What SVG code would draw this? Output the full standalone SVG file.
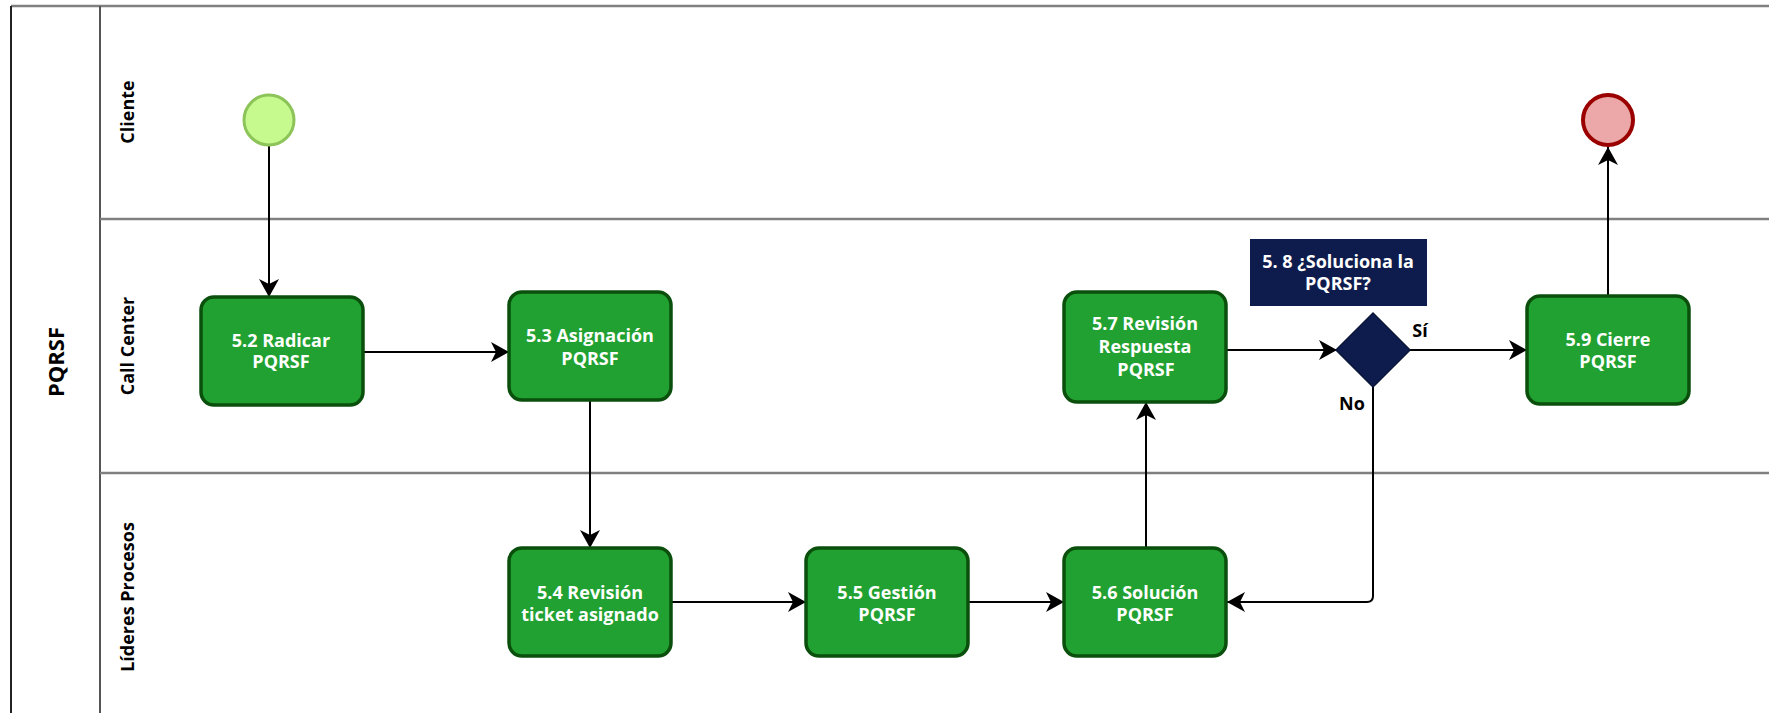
<svg xmlns="http://www.w3.org/2000/svg" width="1769" height="713" viewBox="0 0 1769 713">
<defs>
<style>
.task{fill:#21a131;stroke:#0a4f0c;stroke-width:3.5}
.tt{font-family:"Open Sans","Noto Sans","Liberation Sans",sans-serif;font-weight:700;font-size:18px;fill:#ffffff;text-anchor:middle;dominant-baseline:central}
.lane{font-family:"Open Sans","Noto Sans","Liberation Sans",sans-serif;font-weight:700;font-size:18px;fill:#000;text-anchor:middle;dominant-baseline:central}
.lbl{font-family:"Open Sans","Noto Sans","Liberation Sans",sans-serif;font-weight:700;font-size:18px;fill:#000;text-anchor:middle;dominant-baseline:central}
.edge{fill:none;stroke:#000;stroke-width:2}
.sep{stroke:#808080;stroke-width:2.5;fill:none}
</style>
<marker id="arr" markerUnits="userSpaceOnUse" markerWidth="22" markerHeight="24" refX="18" refY="11" orient="auto">
<path d="M0,1 L18,11 L0,21 L5,11 Z" fill="#000"/>
</marker>
</defs>
<rect width="1769" height="713" fill="#ffffff"/>
<g id="pool">
<line x1="11" y1="6" x2="1769" y2="6" class="sep"/>
<line x1="11" y1="6" x2="11" y2="713" stroke="#222" stroke-width="2"/>
<line x1="100" y1="6" x2="100" y2="713" stroke="#555" stroke-width="2"/>
<line x1="100" y1="219" x2="1769" y2="219" class="sep"/>
<line x1="100" y1="473" x2="1769" y2="473" class="sep"/>
<text class="lane" style="font-size:22px" transform="translate(55,362) rotate(-90)">PQRSF</text>
<text class="lane" transform="translate(127,112) rotate(-90)">Cliente</text>
<text class="lane" transform="translate(127,346) rotate(-90)">Call Center</text>
<text class="lane" transform="translate(127,597) rotate(-90)">Líderes Procesos</text>
</g>
<g id="connectors">
<line class="edge" x1="269" y1="146" x2="269" y2="297" marker-end="url(#arr)" stroke-width="3"/>
<line class="edge" x1="363" y1="352" x2="509" y2="352" marker-end="url(#arr)"/>
<line class="edge" x1="590" y1="400" x2="590" y2="548" marker-end="url(#arr)" stroke="#333"/>
<line class="edge" x1="671" y1="602" x2="806" y2="602" marker-end="url(#arr)"/>
<line class="edge" x1="968" y1="602" x2="1064" y2="602" marker-end="url(#arr)"/>
<line class="edge" x1="1146" y1="548" x2="1146" y2="402" marker-end="url(#arr)"/>
<line class="edge" x1="1226" y1="350" x2="1337" y2="350" marker-end="url(#arr)"/>
<line class="edge" x1="1410" y1="350" x2="1527" y2="350" marker-end="url(#arr)"/>
<path class="edge" d="M1373,387 L1373,596 Q1373,602 1367,602 L1227,602" marker-end="url(#arr)"/>
<line class="edge" x1="1608" y1="296" x2="1608" y2="147" marker-end="url(#arr)" stroke="#333"/>
<text class="lbl" x="1420" y="330">Sí</text>
<text class="lbl" x="1352" y="403">No</text>
</g>
<g id="start">
<circle cx="269" cy="120" r="25" fill="#c6f98e" stroke="#8cc45a" stroke-width="3"/>
</g>
<g id="end">
<circle cx="1608" cy="120" r="25" fill="#eca8a9" stroke="#9a0000" stroke-width="4"/>
</g>
<g id="t52">
<rect class="task" x="201" y="297" width="162" height="108" rx="13"/>
<text class="tt" x="281" y="340">5.2 Radicar</text>
<text class="tt" x="281" y="361">PQRSF</text>
</g>
<g id="t53">
<rect class="task" x="509" y="292" width="162" height="108" rx="13"/>
<text class="tt" x="590" y="335">5.3 Asignación</text>
<text class="tt" x="590" y="358">PQRSF</text>
</g>
<g id="t54">
<rect class="task" x="509" y="548" width="162" height="108" rx="13"/>
<text class="tt" x="590" y="592">5.4 Revisión</text>
<text class="tt" x="590" y="614">ticket asignado</text>
</g>
<g id="t55">
<rect class="task" x="806" y="548" width="162" height="108" rx="13"/>
<text class="tt" x="887" y="592">5.5 Gestión</text>
<text class="tt" x="887" y="614">PQRSF</text>
</g>
<g id="t56">
<rect class="task" x="1064" y="548" width="162" height="108" rx="13"/>
<text class="tt" x="1145" y="592">5.6 Solución</text>
<text class="tt" x="1145" y="614">PQRSF</text>
</g>
<g id="t57">
<rect class="task" x="1064" y="292" width="162" height="110" rx="13"/>
<text class="tt" x="1145" y="323">5.7 Revisión</text>
<text class="tt" x="1145" y="346">Respuesta</text>
<text class="tt" x="1146" y="369">PQRSF</text>
</g>
<g id="gw58">
<rect x="1250" y="239" width="177" height="67" fill="#0d1c4c"/>
<text class="tt" x="1338" y="261">5. 8 ¿Soluciona la</text>
<text class="tt" x="1338" y="283">PQRSF?</text>
<path d="M1373,313 L1410,350 L1373,387 L1336,350 Z" fill="#0d1c4c" stroke="#0a1538" stroke-width="1.5"/>
</g>
<g id="t59">
<rect class="task" x="1527" y="296" width="162" height="108" rx="13"/>
<text class="tt" x="1608" y="339">5.9 Cierre</text>
<text class="tt" x="1608" y="361">PQRSF</text>
</g>
</svg>
